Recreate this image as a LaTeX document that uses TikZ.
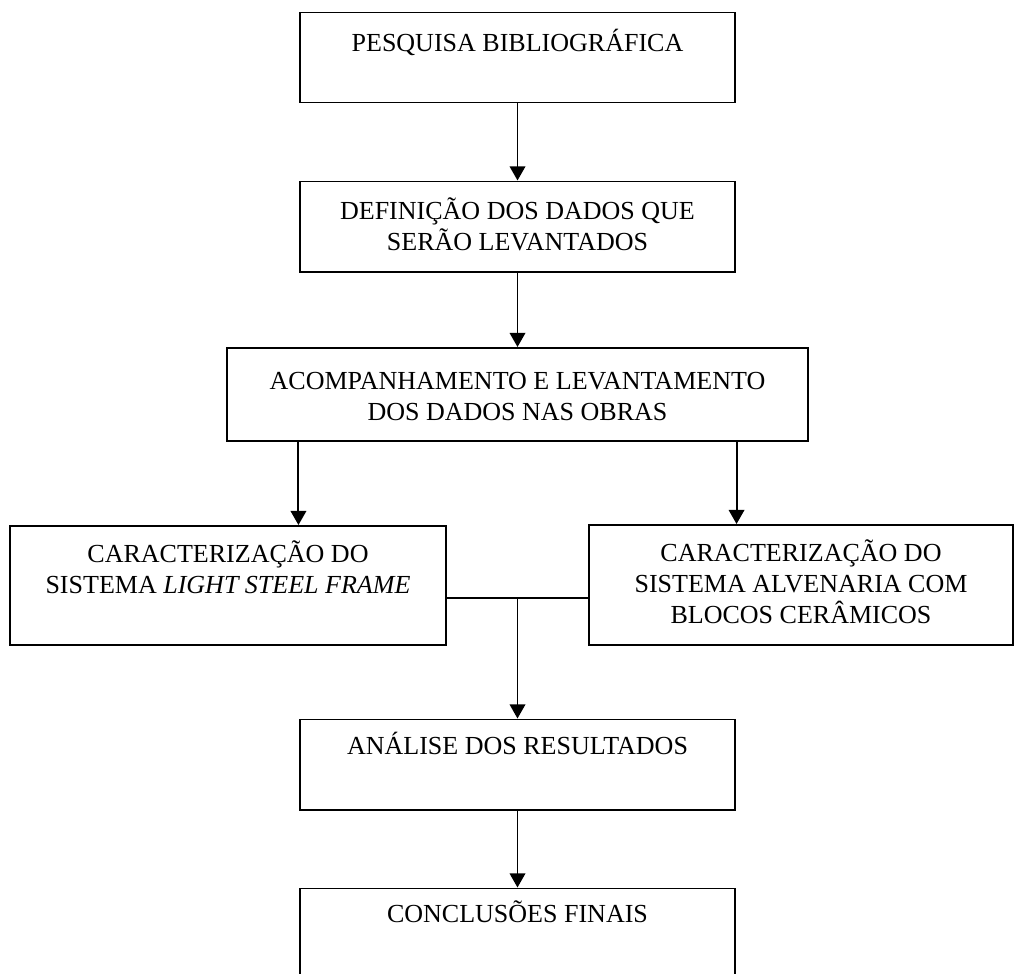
\documentclass[tikz,border=0pt]{standalone}
\usepackage{fontspec}
\setmainfont{Liberation Serif}
\usepackage{tikz}
\usetikzlibrary{arrows.meta, positioning}

\begin{document}
\begin{tikzpicture}[
    x=0.025cm, y=-0.025cm,
    caixa/.style={draw, line width=1.4pt, minimum width=10.875cm, minimum height=2.25cm, inner sep=0pt},
    rotulo/.style={anchor=north, inner sep=0pt, align=center, font=\fontsize{18.5}{22}\selectfont},
    seta/.style={-{Triangle[width=11pt, length=10pt]}, line width=1.4pt},
    linha/.style={line width=1.4pt}
]
    \clip (0,0) rectangle (1017,973);

    % Boxes
    \node[caixa] (pesquisa) at (517.5, 57.5) {};
    \node[caixa] (definicao) at (517.5, 226.5) {};
    \node[caixa, minimum width=14.5cm, minimum height=2.325cm] (acomp) at (517.5, 394.5) {};
    \node[caixa, minimum width=10.9cm, minimum height=2.975cm] (lsf) at (228, 585.5) {};
    \node[caixa, minimum width=10.6cm, minimum height=3cm] (alven) at (801, 585) {};
    \node[caixa] (analise) at (517.5, 764.5) {};
    \node[caixa] (conclusao) at (517.5, 933.5) {};

    % Texts, at the top of each box
    \node[rotulo, below=6pt of pesquisa.north] (pesquisa-t) {\rule{0pt}{22pt}PESQUISA BIBLIOGRÁFICA};
    \node[rotulo, below=5.7pt of definicao.north] (definicao-t) {\rule{0pt}{22pt}DEFINIÇÃO DOS DADOS QUE\\SERÃO LEVANTADOS};
    \node[rotulo, below=7.9pt of acomp.north] (acomp-t) {\rule{0pt}{22pt}ACOMPANHAMENTO E LEVANTAMENTO\\DOS DADOS NAS OBRAS};
    \node[rotulo, below=4.2pt of lsf.north] (lsf-t) {\rule{0pt}{22pt}CARACTERIZAÇÃO DO\\SISTEMA \textit{LIGHT STEEL FRAME}};
    \node[rotulo, below=4.2pt of alven.north] (alven-t) {\rule{0pt}{22pt}CARACTERIZAÇÃO DO\\SISTEMA ALVENARIA COM\\BLOCOS CERÂMICOS};
    \node[rotulo, below=3.7pt of analise.north] (analise-t) {\rule{0pt}{22pt}ANÁLISE DOS RESULTADOS};
    \node[rotulo, below=2.5pt of conclusao.north] (conclusao-t) {\rule{0pt}{22pt}CONCLUSÕES FINAIS};

    % Connections
    \draw[seta] (pesquisa) -- (definicao);
    \draw[seta] (definicao) -- (acomp);
    \draw[seta] ([xshift=1.8cm]acomp.south west) -- ([xshift=1.8cm]acomp.south west |- lsf.north);
    \draw[seta] ([xshift=-1.8cm]acomp.south east) -- ([xshift=-1.8cm]acomp.south east |- alven.north);

    \coordinate (juncao) at (517.5, 598);
    \draw[linha] (lsf.east |- juncao) -- (alven.west |- juncao);
    \draw[seta] (juncao) -- (analise.north);
    \draw[seta] (analise) -- (conclusao);

\end{tikzpicture}
\end{document}
